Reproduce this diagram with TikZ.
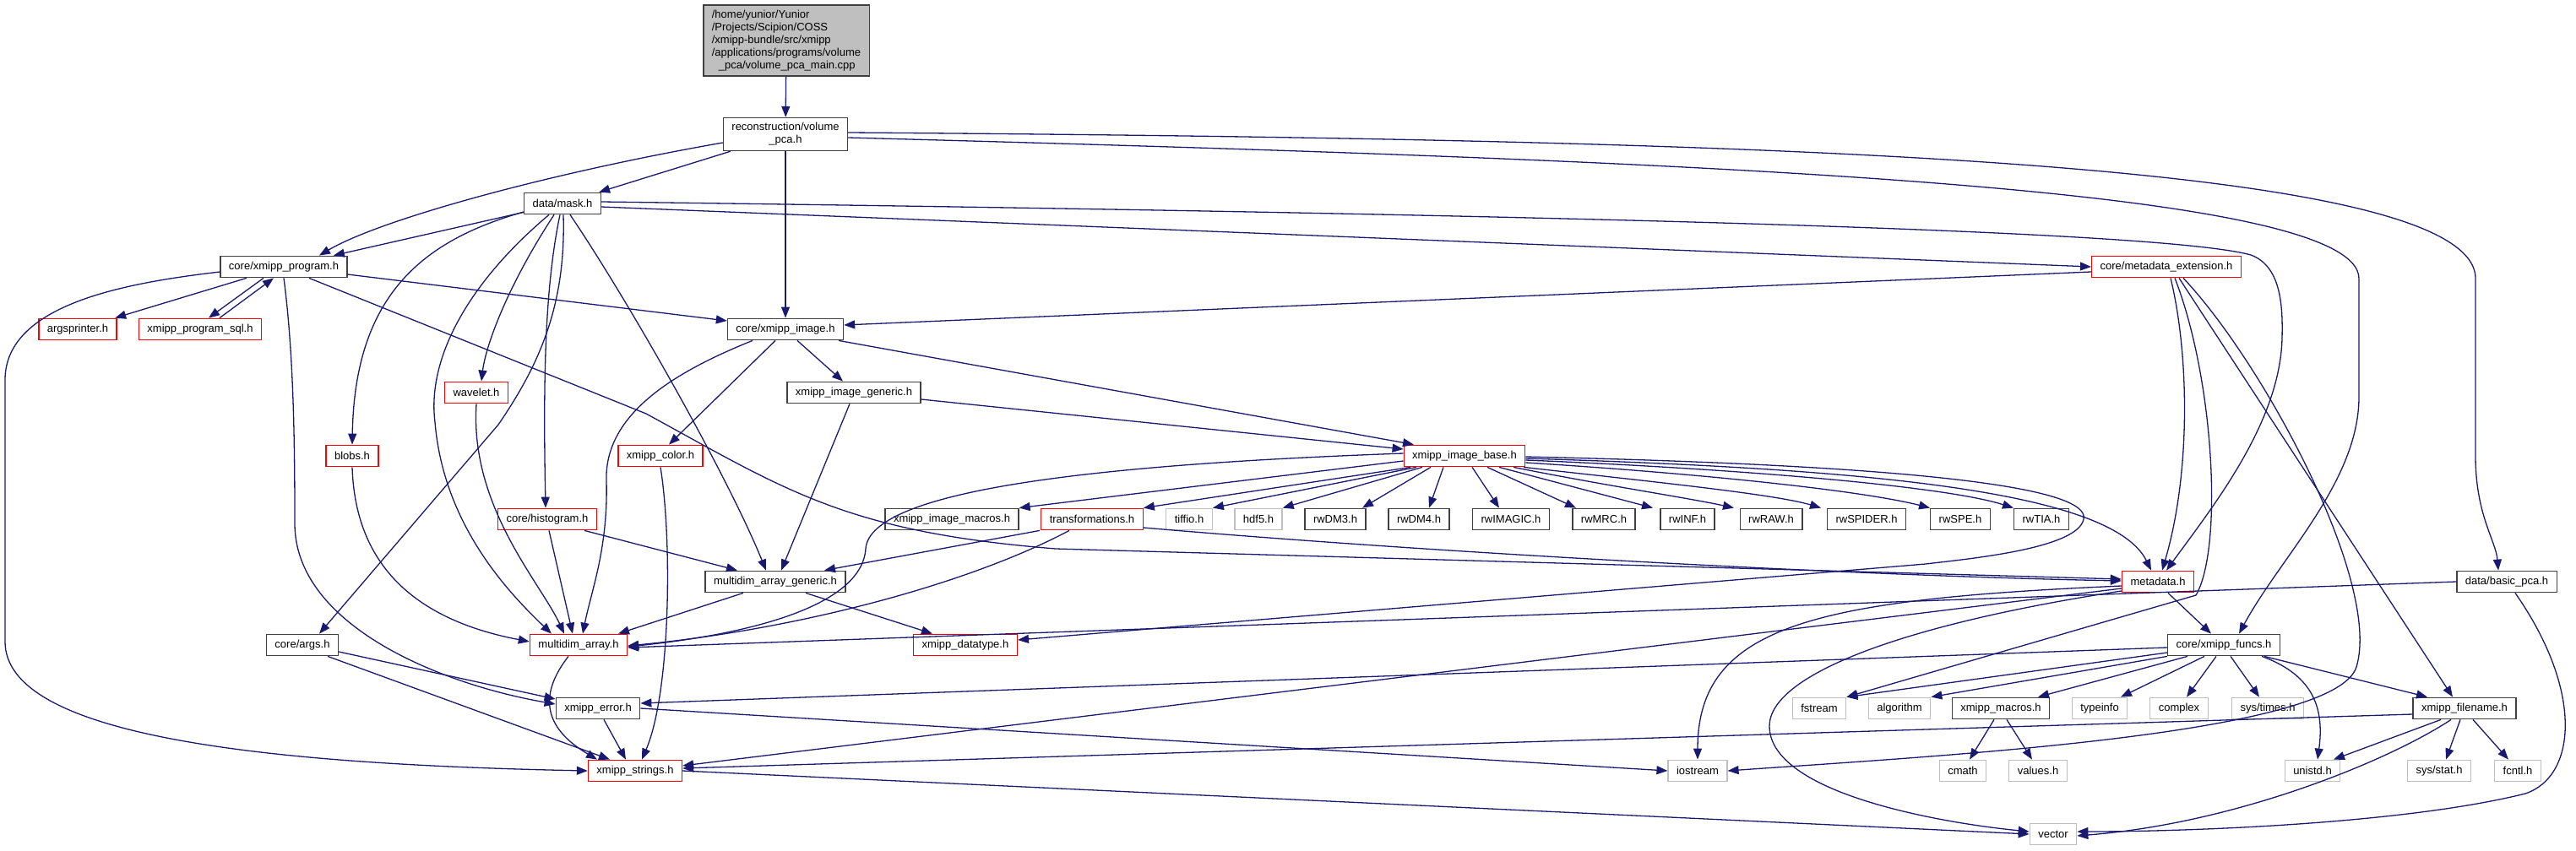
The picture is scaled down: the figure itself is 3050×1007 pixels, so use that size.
\documentclass[tikz,border=0pt]{standalone}
\usepackage{fontspec}
\setmainfont{Liberation Sans}
\usetikzlibrary{arrows.meta}
\definecolor{edgeblue}{HTML}{191970}
\definecolor{boxgray}{HTML}{BFBFBF}
\definecolor{boxdark}{HTML}{404040}
\begin{document}
\begin{tikzpicture}
                [x=1pt,y=-1pt,
                every node/.style={draw=boxdark,fill=white,line width=1.3pt,
                  font=\fontsize{13}{15}\selectfont,inner xsep=10pt,inner ysep=6pt,
                  minimum height=25.5pt},
                partial/.style={draw=red},
                sysinc/.style={draw=boxgray},
                mainfile/.style={fill=boxgray,align=left},
                dep/.style={draw=edgeblue,line width=1.3pt,-{Triangle[length=13pt,width=10pt]}}]
                \useasboundingbox (0,0) rectangle (3050,1007);
                % files
                \node[mainfile] (main) at (931,48) {/home/yunior/Yunior\\/Projects/Scipion/COSS\\/xmipp-bundle/src/xmipp\\/applications/programs/volume\\\hspace*{8pt}\_pca/volume\_pca\_main.cpp};
                \node[align=center] (recon) at (930,159) {reconstruction/volume\\\_pca.h};
                \node (mask) at (666,241) {data/mask.h};
                \node (prog) at (336,316) {core/xmipp\_program.h};
                \node[partial] (mdext) at (2565,316) {core/metadata\_extension.h};
                \node[partial] (argspr) at (92,390) {argsprinter.h};
                \node[partial] (sql) at (237,390) {xmipp\_program\_sql.h};
                \node (img) at (930,390) {core/xmipp\_image.h};
                \node[partial] (wavelet) at (564,465) {wavelet.h};
                \node (imggen) at (1011,465) {xmipp\_image\_generic.h};
                \node[partial] (blobs) at (417,540) {blobs.h};
                \node[partial] (color) at (782,540) {xmipp\_color.h};
                \node[partial] (base) at (1734,540) {xmipp\_image\_base.h};
                \node[partial] (hist) at (648,615) {core/histogram.h};
                \node (imgmac) at (1127,615) {xmipp\_image\_macros.h};
                \node[partial] (transf) at (1293,615) {transformations.h};
                \node[sysinc] (tiffio) at (1408,615) {tiffio.h};
                \node[sysinc] (hdf) at (1490,615) {hdf5.h};
                \node (rwDM3) at (1581,615) {rwDM3.h};
                \node (rwDM4) at (1680,615) {rwDM4.h};
                \node (rwIMAGIC) at (1789,615) {rwIMAGIC.h};
                \node (rwMRC) at (1899,615) {rwMRC.h};
                \node (rwINF) at (1998,615) {rwINF.h};
                \node (rwRAW) at (2097,615) {rwRAW.h};
                \node (rwSPIDER) at (2210,615) {rwSPIDER.h};
                \node (rwSPE) at (2321,615) {rwSPE.h};
                \node (rwTIA) at (2417,615) {rwTIA.h};
                \node (mdagen) at (918,689) {multidim\_array\_generic.h};
                \node[partial] (metadata) at (2555,689) {metadata.h};
                \node (bpca) at (2968,689) {data/basic\_pca.h};
                \node (args) at (358,764) {core/args.h};
                \node[partial] (mdarray) at (685,764) {multidim\_array.h};
                \node[partial] (dtype) at (1143,764) {xmipp\_datatype.h};
                \node (funcs) at (2633,764) {core/xmipp\_funcs.h};
                \node (error) at (708,839) {xmipp\_error.h};
                \node[sysinc] (fstream) at (2154,839) {fstream};
                \node[sysinc] (algorithm) at (2249,839) {algorithm};
                \node (xmacros) at (2369,839) {xmipp\_macros.h};
                \node[sysinc] (typeinfo) at (2486,839) {typeinfo};
                \node[sysinc] (complex) at (2580,839) {complex};
                \node[sysinc] (times) at (2685,839) {sys/times.h};
                \node (fname) at (2918,839) {xmipp\_filename.h};
                \node[partial] (strings) at (752,913) {xmipp\_strings.h};
                \node[sysinc] (iostream) at (2010,913) {iostream};
                \node[sysinc] (cmath) at (2324,913) {cmath};
                \node[sysinc] (values) at (2413,913) {values.h};
                \node[sysinc] (unistd) at (2738,913) {unistd.h};
                \node[sysinc] (sysstat) at (2888,913) {sys/stat.h};
                \node[sysinc] (fcntl) at (2981,913) {fcntl.h};
                \node[sysinc] (vector) at (2431,988) {vector};
                % includes
                \draw[dep] (main) -- (recon);
                \draw[dep] (recon) -- (mask);
                \draw[dep] ([yshift=-10]recon.west) .. controls (650,205) and (450,260) .. ([xshift=42]prog.north);
                \draw[dep] (recon) -- (img);
                \draw[dep] ([yshift=-4]recon.east) .. controls (2000,190) and (2793,220) .. (2793,330) -- (2793,470) .. controls (2793,570) and (2700,660) .. ([xshift=18]funcs.north);
                \draw[dep] ([yshift=2]recon.east) .. controls (2100,165) and (2931,190) .. (2931,330) -- (2931,540) .. controls (2931,610) and (2955,640) .. ([xshift=-10]bpca.north);
                \draw[dep] (mask) -- (prog);
                \draw[dep] ([yshift=-10]mask.west) .. controls (500,285) and (420,350) .. (blobs.north);
                \draw[dep] ([xshift=-16]mask.south) .. controls (560,330) and (505,420) .. (515,500) .. controls (525,620) and (600,700) .. ([xshift=-32]mdarray.north);
                \draw[dep] ([xshift=-10]mask.south) .. controls (600,340) and (575,410) .. ([xshift=6]wavelet.north);
                \draw[dep] ([xshift=-3]mask.south) .. controls (645,340) and (643,450) .. ([xshift=-2]hist.north);
                \draw[dep] ([xshift=1]mask.south) .. controls (670,360) and (640,430) .. (590,503) -- ([xshift=20]args.north);
                \draw[dep] ([xshift=9]mask.south) .. controls (740,350) and (860,560) .. ([xshift=-11]mdagen.north);
                \draw[dep] ([yshift=-4]mask.east) -- (mdext.west);
                \draw[dep] ([yshift=2]mask.east) .. controls (1700,252) and (2550,270) .. (2665,302) .. controls (2700,315) and (2703,360) .. (2702,400) .. controls (2700,500) and (2620,600) .. ([xshift=10]metadata.north);
                \draw[dep] (prog) -- (argspr);
                \draw[dep] ([xshift=-24]prog.south) -- ([xshift=10]sql.north);
                \draw[dep] ([xshift=23]sql.north) -- ([xshift=-12]prog.south);
                \draw[dep] (prog.south) .. controls (348,420) and (349,530) .. (349,620) .. controls (349,740) and (520,810) .. ([yshift=5]error.west);
                \draw[dep] ([xshift=30]prog.south) -- (765,490) .. controls (930,580) and (1000,630) .. (1250,650) -- ([yshift=3]metadata.west);
                \draw[dep] ([yshift=-9]prog.east) -- ([yshift=10]img.west);
                \draw[dep] ([yshift=-6]prog.west) .. controls (150,335) and (6,360) .. (6,450) -- (6,760) .. controls (6,870) and (300,905) .. (strings.west);
                \draw[dep] ([xshift=-39]img.south) .. controls (800,440) and (715,490) .. (718,570) .. controls (720,650) and (700,700) .. ([xshift=5]mdarray.north);
                \draw[dep] ([xshift=-12]img.south) -- ([xshift=10]color.north);
                \draw[dep] ([xshift=14]img.south) -- ([xshift=-13]imggen.north);
                \draw[dep] ([xshift=63]img.south) -- ([xshift=-60]base.north);
                \draw[dep] ([yshift=-8]imggen.east) -- ([yshift=8]base.west);
                \draw[dep] ([xshift=-5]imggen.south) -- ([xshift=7]mdagen.north);
                \draw[dep] (color.south) .. controls (796,640) and (794,820) .. ([xshift=8]strings.north);
                \draw[dep] (wavelet.south) .. controls (556,600) and (640,690) .. ([xshift=-17]mdarray.north);
                \draw[dep] (blobs.south) .. controls (420,650) and (470,730) .. ([yshift=4]mdarray.west);
                \draw[dep] ([xshift=2]hist.south) -- ([xshift=-7]mdarray.north);
                \draw[dep] ([xshift=44]hist.south) -- ([xshift=-45]mdagen.north);
                \draw[dep] ([xshift=-38]mdagen.south) -- ([xshift=47]mdarray.north);
                \draw[dep] ([xshift=36]mdagen.south) -- ([xshift=-39]dtype.north);
                \draw[dep] ([xshift=-12]mdarray.south) .. controls (640,820) and (640,860) .. ([xshift=-45]strings.north);
                \draw[dep] ([yshift=-8]args.east) -- ([yshift=11]error.west);
                \draw[dep] ([xshift=30]args.south) -- ([xshift=-30]strings.north);
                \draw[dep] ([xshift=7]error.south) -- ([xshift=-11]strings.north);
                \draw[dep] (error.east) -- (iostream.west);
                \draw[dep] (strings.east) -- (vector.west);
                \draw[dep] ([yshift=-6]base.west) -- (imgmac.north east);
                \draw[dep] ([xshift=-64]base.south) -- (transf.north east);
                \draw[dep] ([xshift=-57]base.south) -- (tiffio.north east);
                \draw[dep] ([xshift=-50]base.south) -- (hdf.north east);
                \draw[dep] ([xshift=-40]base.south) -- ([xshift=32]rwDM3.north);
                \draw[dep] ([xshift=-25]base.south) -- ([xshift=12]rwDM4.north);
                \draw[dep] ([xshift=9]base.south) -- ([xshift=-14]rwIMAGIC.north);
                \draw[dep] ([xshift=27]base.south) -- ([xshift=-33]rwMRC.north);
                \draw[dep] ([xshift=41]base.south) -- ([xshift=-41]rwINF.north);
                \draw[dep] ([xshift=58]base.south) .. controls (1900,575) and (2000,590) .. ([xshift=-44]rwRAW.north);
                \draw[dep] ([xshift=70]base.south) .. controls (1950,570) and (2100,585) .. ([xshift=-54]rwSPIDER.north);
                \draw[dep] ([yshift=-8]base.east) .. controls (2000,560) and (2200,580) .. (rwSPE.north west);
                \draw[dep] ([yshift=-5]base.east) .. controls (2050,555) and (2300,575) .. (rwTIA.north west);
                \draw[dep] ([yshift=3]base.west) .. controls (1300,550) and (1030,580) .. (1025,650) .. controls (1020,720) and (880,752) .. ([yshift=-2]mdarray.east);
                \draw[dep] ([yshift=-3]base.east) .. controls (2200,555) and (2500,580) .. ([xshift=-8]metadata.north);
                \draw[dep] ([yshift=-1]base.east) .. controls (2300,552) and (2475,580) .. (2467,615) .. controls (2460,650) and (2330,662) .. (2280,668) -- ([yshift=6]dtype.east);
                \draw[dep] ([xshift=12]metadata.south) -- ([xshift=-15]funcs.north);
                \draw[dep] ([yshift=-5]metadata.west) .. controls (2150,710) and (2010,740) .. (iostream.north);
                \draw[dep] ([yshift=-11]metadata.west) .. controls (2250,740) and (2095,800) .. (2095,860) .. controls (2095,940) and (2300,975) .. ([yshift=3]vector.west);
                \draw[dep] ([yshift=-8]metadata.west) -- ([yshift=6]strings.east);
                \draw[dep] ([yshift=-6]mdext.west) -- ([yshift=5]img.east);
                \draw[dep] ([xshift=5]mdext.south) .. controls (2592,420) and (2594,560) .. ([xshift=5]metadata.north);
                \draw[dep] ([xshift=10]mdext.south) .. controls (2622,450) and (2632,650) .. (2600,705) -- (fstream.north east);
                \draw[dep] ([xshift=15]mdext.south) -- ([xshift=-14]fname.north);
                \draw[dep] ([xshift=20]mdext.south) .. controls (2680,430) and (2820,690) .. (2790,790) .. controls (2765,870) and (2300,895) .. (iostream.east);
                \draw[dep] ([yshift=-3]funcs.west) -- ([yshift=6]error.east);
                \draw[dep] ([yshift=-9]funcs.west) -- (fstream.north east);
                \draw[dep] (funcs.south west) -- (algorithm.north east);
                \draw[dep] ([xshift=-43]funcs.south) -- ([xshift=44]xmacros.north);
                \draw[dep] ([xshift=-23]funcs.south) -- ([xshift=25]typeinfo.north);
                \draw[dep] ([xshift=-9]funcs.south) -- ([xshift=9]complex.north);
                \draw[dep] ([xshift=8]funcs.south) -- ([xshift=-10]times.north);
                \draw[dep] ([xshift=45]funcs.south) .. controls (2740,800) and (2752,840) .. ([xshift=6]unistd.north);
                \draw[dep] ([xshift=48]funcs.south) -- ([xshift=-44]fname.north);
                \draw[dep] ([xshift=-8]xmacros.south) -- ([xshift=8]cmath.north);
                \draw[dep] ([xshift=7]xmacros.south) -- ([xshift=-7]values.north);
                \draw[dep] ([yshift=-7]fname.west) -- ([yshift=3]strings.east);
                \draw[dep] ([xshift=-28]fname.south) -- ([xshift=25]unistd.north);
                \draw[dep] ([xshift=-16]fname.south) .. controls (2830,900) and (2650,975) .. ([yshift=-2]vector.east);
                \draw[dep] ([xshift=-5]fname.south) -- ([xshift=8]sysstat.north);
                \draw[dep] ([xshift=10]fname.south) -- ([xshift=-11]fcntl.north);
                \draw[dep] (bpca.west) -- ([yshift=-3]mdarray.east);
                \draw[dep] ([xshift=10]bpca.south) .. controls (3060,820) and (3050,920) .. (2990,940) .. controls (2850,975) and (2600,985) .. ([yshift=3]vector.east);
                \draw[dep] ([yshift=-10]transf.east) .. controls (1700,655) and (2200,682) .. ([yshift=1]metadata.west);
                \draw[dep] ([xshift=-62]transf.south) -- ([xshift=58]mdagen.north);
                \draw[dep] ([xshift=-27]transf.south) .. controls (1150,690) and (950,745) .. ([yshift=-1]mdarray.east);
            \end{tikzpicture}
\end{document}
